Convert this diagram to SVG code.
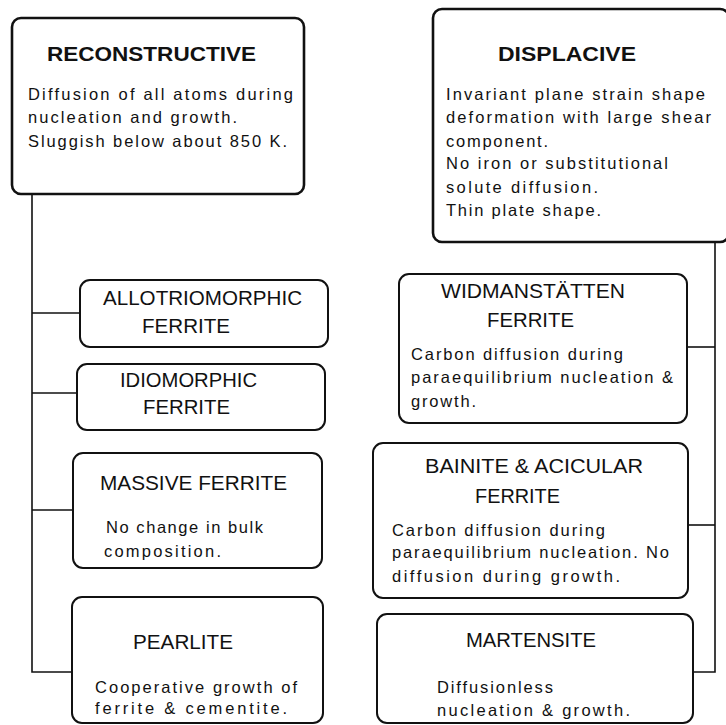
<svg xmlns="http://www.w3.org/2000/svg" width="726" height="725" viewBox="0 0 726 725">
<style>
.main{fill:#fff;stroke:#111;stroke-width:2.6}
.box{fill:#fff;stroke:#111;stroke-width:2}
.con{fill:none;stroke:#111;stroke-width:1.6}
text{font-family:"Liberation Sans",Arial,sans-serif;fill:#111}
.t1{font-size:21px;font-weight:bold}
.t2{font-size:20px}
.b{font-size:16.5px}
</style>
<rect width="726" height="725" fill="#fff"/>
<g id="connectors">
<polyline class="con" points="32,194 32,672 72,672"/>
<line class="con" x1="32" y1="313" x2="80" y2="313"/>
<line class="con" x1="32" y1="393" x2="77" y2="393"/>
<line class="con" x1="32" y1="510" x2="73" y2="510"/>
<polyline class="con" points="715,242 715,672 692,672"/>
<line class="con" x1="715" y1="347" x2="687" y2="347"/>
<line class="con" x1="715" y1="525" x2="688" y2="525"/>
</g>
<g id="reconstructive">
<rect class="main" x="12" y="18" width="292" height="176" rx="9"/>
<text class="t1" x="47" y="61" textLength="209" lengthAdjust="spacingAndGlyphs">RECONSTRUCTIVE</text>
<text class="b" x="28" y="100" textLength="265">Diffusion of all atoms during</text>
<text class="b" x="28" y="123" textLength="209">nucleation and growth.</text>
<text class="b" x="28" y="147" textLength="259">Sluggish below about 850 K.</text>
</g>
<g id="displacive">
<rect class="main" x="433" y="9" width="296" height="233" rx="9"/>
<text class="t1" x="498" y="61" textLength="138" lengthAdjust="spacingAndGlyphs">DISPLACIVE</text>
<text class="b" x="446" y="100" textLength="259">Invariant plane strain shape</text>
<text class="b" x="446" y="123" textLength="265">deformation with large shear</text>
<text class="b" x="446" y="147" textLength="102">component.</text>
<text class="b" x="446" y="169" textLength="222">No iron or substitutional</text>
<text class="b" x="446" y="193" textLength="152">solute diffusion.</text>
<text class="b" x="446" y="216" textLength="155">Thin plate shape.</text>
</g>
<g id="allotriomorphic">
<rect class="box" x="80" y="280" width="248" height="67" rx="10"/>
<text class="t2" x="103" y="305" textLength="199" lengthAdjust="spacingAndGlyphs">ALLOTRIOMORPHIC</text>
<text class="t2" x="142" y="333" textLength="88" lengthAdjust="spacingAndGlyphs">FERRITE</text>
</g>
<g id="idiomorphic">
<rect class="box" x="77" y="364" width="248" height="66" rx="10"/>
<text class="t2" x="120" y="387" textLength="137" lengthAdjust="spacingAndGlyphs">IDIOMORPHIC</text>
<text class="t2" x="143" y="414" textLength="87" lengthAdjust="spacingAndGlyphs">FERRITE</text>
</g>
<g id="massive">
<rect class="box" x="73" y="453" width="249" height="115" rx="10"/>
<text class="t2" x="100" y="490" textLength="187" lengthAdjust="spacingAndGlyphs">MASSIVE FERRITE</text>
<text class="b" x="106" y="533" textLength="157">No change in bulk</text>
<text class="b" x="104" y="557" textLength="117">composition.</text>
</g>
<g id="pearlite">
<rect class="box" x="72" y="597" width="251" height="126" rx="10"/>
<text class="t2" x="133" y="649" textLength="100" lengthAdjust="spacingAndGlyphs">PEARLITE</text>
<text class="b" x="95" y="693" textLength="202">Cooperative growth of</text>
<text class="b" x="95" y="714" textLength="192">ferrite &amp; cementite.</text>
</g>
<g id="widmanstatten">
<rect class="box" x="399" y="274" width="288" height="149" rx="10"/>
<text class="t2" x="441" y="298" textLength="184" lengthAdjust="spacingAndGlyphs">WIDMANSTÄTTEN</text>
<text class="t2" x="487" y="327" textLength="87" lengthAdjust="spacingAndGlyphs">FERRITE</text>
<text class="b" x="411" y="360" textLength="212">Carbon diffusion during</text>
<text class="b" x="411" y="383" textLength="262">paraequilibrium nucleation &amp;</text>
<text class="b" x="411" y="407" textLength="65">growth.</text>
</g>
<g id="bainite">
<rect class="box" x="373" y="443" width="315" height="155" rx="10"/>
<text class="t2" x="425" y="473" textLength="218" lengthAdjust="spacingAndGlyphs">BAINITE &amp; ACICULAR</text>
<text class="t2" x="475" y="503" textLength="85" lengthAdjust="spacingAndGlyphs">FERRITE</text>
<text class="b" x="392" y="536" textLength="213">Carbon diffusion during</text>
<text class="b" x="392" y="558" textLength="277">paraequilibrium nucleation. No</text>
<text class="b" x="392" y="582" textLength="228">diffusion during growth.</text>
</g>
<g id="martensite">
<rect class="box" x="377" y="614" width="316" height="109" rx="10"/>
<text class="t2" x="466" y="647" textLength="130" lengthAdjust="spacingAndGlyphs">MARTENSITE</text>
<text class="b" x="437" y="693" textLength="116">Diffusionless</text>
<text class="b" x="437" y="716" textLength="193">nucleation &amp; growth.</text>
</g>
</svg>
